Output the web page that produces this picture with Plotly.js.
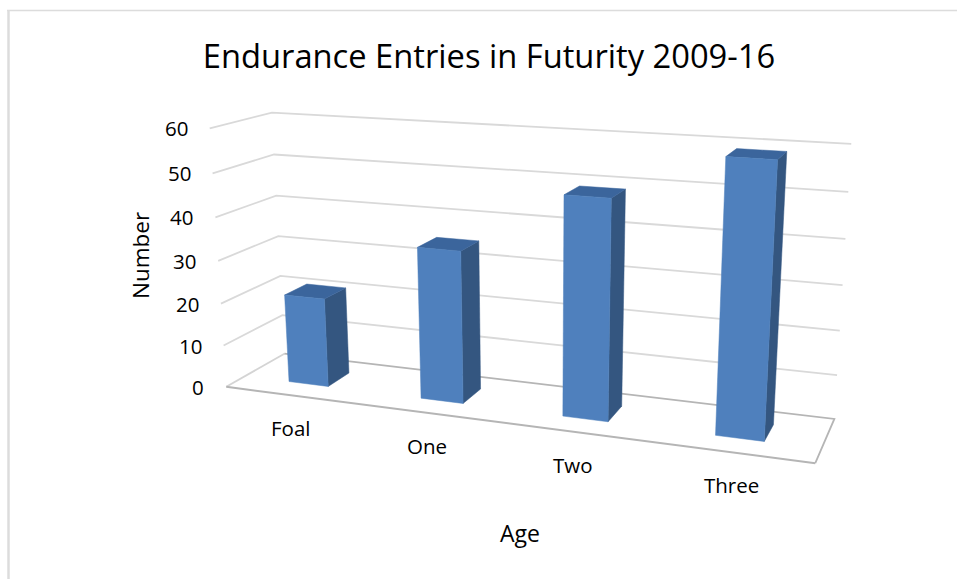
<!DOCTYPE html>
<html><head><meta charset="utf-8">
<script src="https://cdn.plot.ly/plotly-3.0.1.min.js"></script>
<style>html,body{margin:0;padding:0;background:#fff}</style>
</head><body><div id="chart" style="width:957px;height:579px"></div>
<script>
const categories = ["Foal","One","Two","Three"];
const values = [21,35,49,59];
const yTicks = [0,10,20,30,40,50,60];
const titleText = "Endurance Entries in Futurity 2009-16";
const xTitle = "Age";
const yTitle = "Number";

// camera calibration: box coordinate (across, depth, value) -> picture
const calib = [
 [0,0,60,210,128.3],[0,0,50,212.7,173],[0,0,40,215.7,217.3],[0,0,30,218.3,261],[0,0,20,220.7,304],[0,0,10,223.3,346],[0,0,0,226,386.7],
 [0,1,60,272,112.7],[0,1,50,274,154.3],[0,1,40,276,196],[0,1,30,278,236],[0,1,20,280.3,276],[0,1,0,285,353],
 [1,1,60,851,143.3],[1,1,50,848,191.7],[1,1,40,845.7,239],[1,1,30,842.7,285.7],[1,1,20,840,331],[1,1,10,837,376],[1,1,0,834.3,418.3],
 [1,0,0,815.3,462.7]
];
function solve(A,b){
  const n=b.length, M=A.map((r,i)=>r.concat([b[i]]));
  for(let c=0;c<n;c++){
    let p=c; for(let r=c+1;r<n;r++) if(Math.abs(M[r][c])>Math.abs(M[p][c])) p=r;
    [M[c],M[p]]=[M[p],M[c]];
    for(let r=0;r<n;r++){ if(r===c) continue; const f=M[r][c]/M[c][c]; for(let k=c;k<=n;k++) M[r][k]-=f*M[c][k]; }
  }
  return M.map((r,i)=>r[n]/r[i]);
}
function fitCamera(){
  const rows=[],rhs=[];
  calib.forEach(([u,d,v,x,y])=>{
    const h=v/60, X=x/1000, Y=y/1000;
    rows.push([u,d,h,1,0,0,0,0,-X*u,-X*d,-X*h]); rhs.push(X);
    rows.push([0,0,0,0,u,d,h,1,-Y*u,-Y*d,-Y*h]); rhs.push(Y);
  });
  const N=11, A=[],b=[];
  for(let i=0;i<N;i++){ A.push(new Array(N).fill(0)); b.push(0); }
  rows.forEach((r,k)=>{ for(let i=0;i<N;i++){ b[i]+=r[i]*rhs[k]; for(let j=0;j<N;j++) A[i][j]+=r[i]*r[j]; } });
  return solve(A,b);
}
const P=fitCamera();
function proj(u,d,v){
  const h=v/60, w=P[8]*u+P[9]*d+P[10]*h+1;
  return [1000*(P[0]*u+P[1]*d+P[2]*h+P[3])/w, 1000*(P[4]*u+P[5]*d+P[6]*h+P[7])/w];
}
function polyline(pts,color,width,fill){
  const t={x:pts.map(p=>p[0]),y:pts.map(p=>p[1]),mode:"lines",type:"scatter",hoverinfo:"skip",showlegend:false,
    line:{color:color,width:width}};
  if(fill){t.fill="toself";t.fillcolor=fill;}
  return t;
}
const traces=[];
// walls
yTicks.forEach(v=>{
  if(v===0) return;
  traces.push(polyline([proj(0,0,v),proj(0,1,v),proj(1,1,v)],"#d9d9d9",1.8));
});
// floor
traces.push(polyline([proj(0,0,0),proj(0,1,0)],"#d4d4d4",1.8));
traces.push(polyline([proj(0,1,0),proj(1,1,0),proj(1,0,0)],"#b5b5b5",1.8));
traces.push(polyline([proj(1,0,0),proj(0,0,0)],"#b5b5b5",2));
// bars
const barW=0.076, dFront=0.31, dBack=0.70;
const cFront="#4f80bd", cSide="#345680", cTop="#3b659c";
categories.forEach((c,i)=>{
  const uc=(i+0.5)/categories.length, a=uc-barW/2, b=uc+barW/2, v=values[i];
  const FL0=proj(a,dFront,0),FR0=proj(b,dFront,0),FLv=proj(a,dFront,v),FRv=proj(b,dFront,v);
  const BR0=proj(b,dBack,0),BRv=proj(b,dBack,v),BLv=proj(a,dBack,v);
  traces.push(polyline([FR0,BR0,BRv,FRv,FR0],cSide,0.5,cSide));
  traces.push(polyline([FLv,BLv,BRv,FRv,FLv],cTop,0.5,cTop));
  traces.push(polyline([FL0,FR0,FRv,FLv,FL0],cFront,0.5,cFront));
});
const txt="'Open Sans', 'Noto Sans', sans-serif";
const annotations=[];
yTicks.forEach(v=>{
  const p=proj(0,0,v);
  annotations.push({x:p[0]-20,y:p[1]+0,xref:"x",yref:"y",text:String(v),showarrow:false,xanchor:"right",yanchor:"middle",font:{family:txt,size:20.5,color:"#000"}});
});
categories.forEach((c,i)=>{
  const p=proj((i+0.5)/categories.length,0,0);
  annotations.push({x:p[0],y:p[1]+33,xref:"x",yref:"y",text:c,showarrow:false,xanchor:"center",yanchor:"middle",font:{family:txt,size:20.5,color:"#000"}});
});
annotations.push({x:520,y:533,xref:"x",yref:"y",text:xTitle,showarrow:false,xanchor:"center",yanchor:"middle",font:{family:txt,size:23,color:"#000"}});
annotations.push({x:140,y:256,xref:"x",yref:"y",text:yTitle,showarrow:false,textangle:-90,xanchor:"center",yanchor:"middle",font:{family:txt,size:22.5,color:"#000"}});
const layout={
  width:957,height:579,margin:{l:0,r:0,t:0,b:0},paper_bgcolor:"#fff",plot_bgcolor:"#fff",showlegend:false,
  title:{text:titleText,x:489/957,xanchor:"center",y:1-57/579,yanchor:"middle",font:{family:txt,size:32.7,color:"#000"}},
  xaxis:{range:[0,957],visible:false,fixedrange:true},
  yaxis:{range:[579,0],visible:false,fixedrange:true},
  annotations:annotations,
  shapes:[
    {type:"line",xref:"x",yref:"y",x0:7,x1:957,y0:10.6,y1:10.6,line:{color:"#dcdcdc",width:1.5},layer:"below"},
    {type:"line",xref:"x",yref:"y",x0:8.5,x1:8.5,y0:10,y1:579,line:{color:"#dcdcdc",width:2.5},layer:"below"}
  ]
};
Plotly.newPlot("chart",traces,layout,{displayModeBar:false,staticPlot:true});
</script></body></html>
